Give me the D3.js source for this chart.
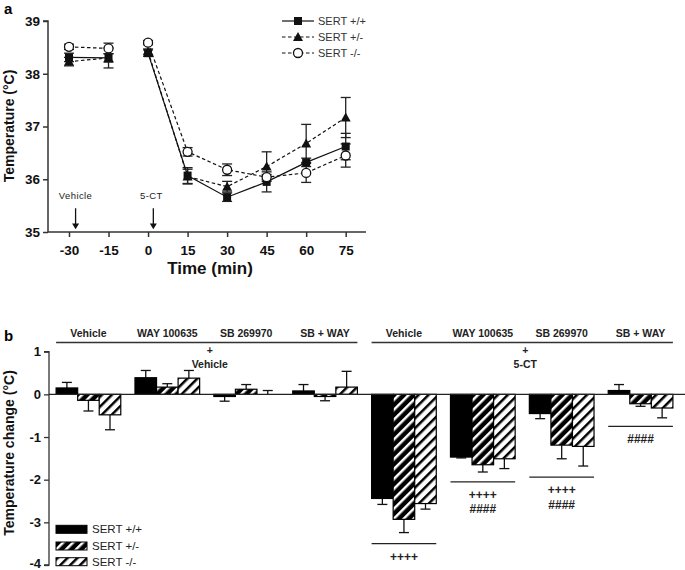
<!DOCTYPE html>
<html><head><meta charset="utf-8">
<script src="https://cdn.jsdelivr.net/npm/d3@7"></script>
<style>body{margin:0;background:#fff;} svg{display:block;font-family:"Liberation Sans",Arial,sans-serif;}</style>
</head><body>
<svg id="c" width="685" height="570"></svg>
<script>
// ---------- Panel a data ----------
const times = [-30, -15, 0, 15, 30, 45, 60, 75];
const seriesNames = ["SERT +/+", "SERT +/-", "SERT -/-"];
const wtMean  = [38.31, 38.30, 38.39, 36.07, 35.66, 35.95, 36.32, 36.62];
const wtSem   = [0.08, 0.08, 0.06, 0.15, 0.08, 0.19, 0.08, 0.25];
const hetMean = [38.23, 38.30, 38.42, 36.05, 35.86, 36.24, 36.68, 37.17];
const hetSem  = [0.08, 0.19, 0.05, 0.14, 0.10, 0.28, 0.36, 0.38];
const koMean  = [38.51, 38.48, 38.59, 36.52, 36.18, 36.04, 36.12, 36.45];
const koSem   = [0.05, 0.10, 0.04, 0.08, 0.11, 0.05, 0.18, 0.22];
const yTicksA = [35, 36, 37, 38, 39];
const arrowTimes = [-27.5, 2];
const arrowLabels = ["Vehicle", "5-CT"];

// ---------- Panel b data ----------
const groups = ["g1","g2","g3","g4","g5","g6","g7","g8"];
const groupLabels = ["Vehicle","WAY 100635","SB 269970","SB + WAY","Vehicle","WAY 100635","SB 269970","SB + WAY"];
const chWt   = [0.15, 0.39, -0.05, 0.08, -2.44, -1.47, -0.45, 0.09];
const chWtE  = [0.13, 0.17, 0.11, 0.15, 0.14, 0.02, 0.12, 0.14];
const chHet  = [-0.14, 0.17, 0.12, -0.05, -2.93, -1.65, -1.19, -0.22];
const chHetE = [0.25, 0.08, 0.11, 0.10, 0.31, 0.17, 0.32, 0.06];
const chKo   = [-0.48, 0.38, 0.0, 0.17, -2.56, -1.51, -1.22, -0.32];
const chKoE  = [0.35, 0.18, 0.09, 0.37, 0.13, 0.23, 0.46, 0.23];
const yTicksB = [1, 0, -1, -2, -3, -4];
const treatLabels = ["Vehicle", "5-CT"];
const sigGroups = ["g5","g6","g7","g8"];
const sigLineVal = [-3.50, -2.05, -1.94, -0.75];
const sigText = [["++++"], ["++++","####"], ["++++","####"], ["####"]];

const svg = d3.select("#c");
const FONT = '"Liberation Sans",Arial,sans-serif';

// ================= Panel a =================
const xA = d3.scaleLinear().domain([-30, 75]).range([69, 345.7]);
const yA = d3.scaleLinear().domain([35, 39]).range([232, 21]);
const gA = svg.append("g");

const axAy = d3.axisLeft(yA).tickValues(yTicksA).tickSize(5).tickFormat(d3.format("d"));
gA.append("g").attr("class","ay").attr("transform","translate(48,0)").call(axAy)
  .call(g=>{g.select(".domain").attr("d",`M-5,${yA(39)}H0V${yA(35)}`);});
const axAx = d3.axisBottom(xA).tickValues(times).tickSize(5).tickFormat(d=>d<0?"-"+Math.abs(d):String(d));
gA.append("g").attr("class","ax").attr("transform",`translate(0,232)`).call(axAx)
  .call(g=>{g.select(".domain").attr("d",`M48,0H366`);});
gA.selectAll(".tick text").attr("font-family",FONT).attr("font-weight","bold").attr("font-size",13.5).attr("fill","#111");
gA.selectAll(".domain,.tick line").attr("stroke","#333").attr("stroke-width",1.5);
gA.select(".ax").selectAll(".tick text").attr("dy","1.1em");

gA.append("text").attr("x",210).attr("y",274).attr("text-anchor","middle")
  .attr("font-weight","bold").attr("font-size",17).attr("fill","#111").text("Time (min)");
gA.append("text").attr("transform","translate(14,126) rotate(-90)").attr("text-anchor","middle")
  .attr("font-weight","bold").attr("font-size",14).attr("fill","#111").text("Temperature (°C)");
svg.append("text").attr("x",4).attr("y",14).attr("font-weight","bold").attr("font-size",15).text("a");

// arrows
arrowTimes.forEach((t,i)=>{
  const x = xA(t);
  gA.append("line").attr("x1",x).attr("x2",x).attr("y1",yA(35.45)).attr("y2",yA(35.12)).attr("stroke","#111").attr("stroke-width",1.3);
  gA.append("path").attr("d",`M${x-3.5},${yA(35.16)}L${x+3.5},${yA(35.16)}L${x},${yA(35.05)}Z`).attr("fill","#111");
  gA.append("text").attr("x",x-(i===0?0:2)).attr("y",yA(35.62)).attr("text-anchor","middle").attr("font-size",9.5)
    .attr("letter-spacing",0.4).attr("fill","#222").text(arrowLabels[i]);
});

const seriesA = [
  {name:seriesNames[0], mean:wtMean, sem:wtSem, dash:null, marker:"square"},
  {name:seriesNames[1], mean:hetMean, sem:hetSem, dash:"3.5,2.5", marker:"triangle"},
  {name:seriesNames[2], mean:koMean, sem:koSem, dash:"3.5,2.5", marker:"circle"}
];
function drawMarker(g, type, x, y){
  if(type==="square") g.append("rect").attr("x",x-4).attr("y",y-4).attr("width",8).attr("height",8).attr("fill","#111");
  else if(type==="triangle") g.append("path").attr("d",`M${x},${y-5}L${x+5},${y+4}L${x-5},${y+4}Z`).attr("fill","#111");
  else g.append("circle").attr("cx",x).attr("cy",y).attr("r",4.5).attr("fill","#fff").attr("stroke","#111").attr("stroke-width",1.3);
}
seriesA.forEach(s=>{
  s.mean.forEach((m,i)=>{
    const x = xA(times[i]);
    gA.append("line").attr("x1",x).attr("x2",x).attr("y1",yA(m-s.sem[i])).attr("y2",yA(m+s.sem[i])).attr("stroke","#222").attr("stroke-width",1.3);
    [m-s.sem[i], m+s.sem[i]].forEach(v=>gA.append("line").attr("x1",x-5).attr("x2",x+5).attr("y1",yA(v)).attr("y2",yA(v)).attr("stroke","#222").attr("stroke-width",1.3));
  });
  [[0,2],[2,8]].forEach(([a,b])=>{
    const segIdx = d3.range(a,b);
    gA.append("path").datum(segIdx).attr("d",d3.line().x(i=>xA(times[i])).y(i=>yA(s.mean[i])))
      .attr("fill","none").attr("stroke","#111").attr("stroke-width",1.2).attr("stroke-dasharray",s.dash);
  });
});
seriesA.forEach(s=>s.mean.forEach((m,i)=>drawMarker(gA,s.marker,xA(times[i]),yA(m))));

// legend a
seriesA.forEach((s,i)=>{
  const y = 21 + i*16;
  gA.append("line").attr("x1",282).attr("x2",314).attr("y1",y).attr("y2",y).attr("stroke","#111").attr("stroke-width",1.2).attr("stroke-dasharray",s.dash);
  drawMarker(gA,s.marker,298,y);
  gA.append("text").attr("x",318).attr("y",y+4).attr("font-size",11).attr("fill","#333").text(s.name);
});

// ================= Panel b =================
const gB = svg.append("g");
const defs = svg.append("defs");
const p1 = defs.append("pattern").attr("id","hatchBlack").attr("patternUnits","userSpaceOnUse").attr("width",7).attr("height",7).attr("patternTransform","rotate(45)");
p1.append("rect").attr("width",7).attr("height",7).attr("fill","#000");
p1.append("rect").attr("x",0).attr("width",2.5).attr("height",7).attr("fill","#fff");
const p2 = defs.append("pattern").attr("id","hatchWhite").attr("patternUnits","userSpaceOnUse").attr("width",7).attr("height",7).attr("patternTransform","rotate(45)");
p2.append("rect").attr("width",7).attr("height",7).attr("fill","#fff");
p2.append("rect").attr("x",0).attr("width",2.5).attr("height",7).attr("fill","#000");

const xB = d3.scaleBand().domain(groups).range([49, 680]).paddingInner(0.18).paddingOuter(0.09);
const xSub = d3.scaleBand().domain([0,1,2]).range([0, xB.bandwidth()]);
const yB = d3.scaleLinear().domain([-4, 1]).range([565, 351.7]);

const axBy = d3.axisLeft(yB).tickValues(yTicksB).tickSize(5).tickFormat(d=>d<0?"-"+Math.abs(d):String(d));
gB.append("g").attr("transform","translate(49,0)").call(axBy)
  .call(g=>{g.select(".domain").attr("d",`M-5,${yB(1)}H0V${yB(-4)}H-5`);});
gB.selectAll(".tick text").attr("font-family",FONT).attr("font-weight","bold").attr("font-size",13).attr("fill","#111");
gB.selectAll(".tick").filter(d=>d===-4).select("text").attr("dy","0.2em");
gB.selectAll(".domain,.tick line").attr("stroke","#333").attr("stroke-width",1.3);
gB.append("text").attr("transform","translate(14,453) rotate(-90)").attr("text-anchor","middle")
  .attr("font-weight","bold").attr("font-size",14).attr("fill","#111").text("Temperature change (°C)");
svg.append("text").attr("x",4).attr("y",341).attr("font-weight","bold").attr("font-size",15).text("b");

const seriesB = [
  {vals:chWt, err:chWtE, fill:"#000"},
  {vals:chHet, err:chHetE, fill:"url(#hatchBlack)"},
  {vals:chKo, err:chKoE, fill:"url(#hatchWhite)"}
];
seriesB.forEach((s,k)=>{
  groups.forEach((g,i)=>{
    const v = s.vals[i];
    const x0 = xB(g)+xSub(k), w = xSub.bandwidth();
    const cx = x0 + w/2;
    const ev = v >= 0 ? v + s.err[i] : v - s.err[i];
    gB.append("line").attr("x1",cx).attr("x2",cx).attr("y1",yB(v)).attr("y2",yB(ev)).attr("stroke","#111").attr("stroke-width",1.3);
    gB.append("line").attr("x1",cx-5).attr("x2",cx+5).attr("y1",yB(ev)).attr("y2",yB(ev)).attr("stroke","#111").attr("stroke-width",1.3);
    gB.append("rect").attr("x",x0).attr("y",Math.min(yB(v),yB(0))).attr("width",w)
      .attr("height",Math.abs(yB(v)-yB(0))).attr("fill",s.fill).attr("stroke","#000").attr("stroke-width",1.2);
  });
});
gB.append("line").attr("x1",49).attr("x2",685).attr("y1",yB(0)).attr("y2",yB(0)).attr("stroke","#222").attr("stroke-width",1.3);

groups.forEach((g,i)=>{
  gB.append("text").attr("x",xB(g)+xB.bandwidth()/2).attr("y",337).attr("text-anchor","middle")
    .attr("font-weight","bold").attr("font-size",10.5).attr("fill","#222").text(groupLabels[i]);
});
[[0,3],[4,7]].forEach(([a,b],j)=>{
  const x1 = xB(groups[a]), x2 = xB(groups[b])+xB.bandwidth();
  gB.append("line").attr("x1",x1).attr("x2",x2).attr("y1",342.5).attr("y2",342.5).attr("stroke","#333").attr("stroke-width",1.5);
  const cx = (x1+x2)/2 + 3;
  gB.append("text").attr("x",cx).attr("y",354).attr("text-anchor","middle").attr("font-weight","bold").attr("font-size",10.5).attr("fill","#222").text("+");
  gB.append("text").attr("x",cx).attr("y",368).attr("text-anchor","middle").attr("font-weight","bold").attr("font-size",10.5).attr("fill","#222").text(treatLabels[j]);
});
sigGroups.forEach((g,i)=>{
  const x1 = xB(g), x2 = xB(g)+xB.bandwidth(), y = yB(sigLineVal[i]);
  gB.append("line").attr("x1",x1).attr("x2",x2).attr("y1",y).attr("y2",y).attr("stroke","#222").attr("stroke-width",1.3);
  sigText[i].forEach((t,j)=>{
    gB.append("text").attr("x",(x1+x2)/2).attr("y",y+17+j*14.5).attr("text-anchor","middle")
      .attr("font-size",12).attr("font-weight", "bold").attr("fill","#222").text(t);
  });
});
const legY = [529.3, 546, 561.7];
seriesB.forEach((s,i)=>{
  gB.append("rect").attr("x",56).attr("y",legY[i]-4).attr("width",31).attr("height",8).attr("fill",s.fill).attr("stroke","#000").attr("stroke-width",1);
  gB.append("text").attr("x",92).attr("y",legY[i]+4).attr("font-size",11.5).attr("fill","#222").text(seriesNames[i]);
});
</script>
</body></html>
